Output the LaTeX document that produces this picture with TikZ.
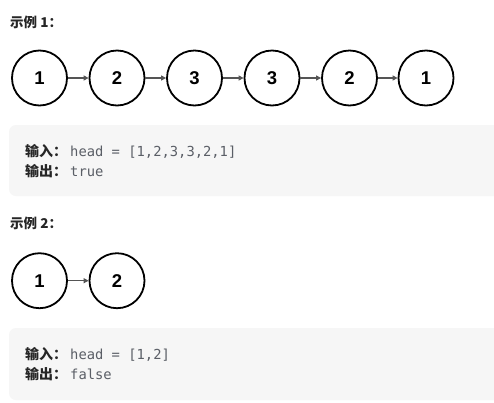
\documentclass[tikz,border=0pt]{standalone}
\usepackage{fontspec}
\setmainfont{Liberation Sans}
\newfontfamily\cjk{Noto Sans CJK SC}
\newfontfamily\codefont{DejaVu Sans Mono}
\usetikzlibrary{arrows.meta}
\definecolor{boxbg}{HTML}{F6F6F6}
\definecolor{codecol}{HTML}{5A5E66}
\definecolor{arrcol}{HTML}{555555}
\tikzset{
  lnode/.style={circle, draw=black, line width=1.8pt, minimum size=55pt, inner sep=0pt,
    font=\fontsize{18.5}{21}\selectfont\bfseries},
  link/.style={draw=arrcol, line width=1.4pt, -{Triangle[length=5pt,width=5pt]}},
  title/.style={anchor=base west, inner sep=0pt, font=\cjk\bfseries\fontsize{13.5}{15}\selectfont, text=black!85},
  lbl/.style={anchor=base west, inner sep=0pt, font=\cjk\bfseries\fontsize{14}{16}\selectfont, text=black!85},
  code/.style={anchor=base west, inner sep=0pt, font=\codefont\fontsize{13.8}{16}\selectfont, text=codecol},
  panel/.style={fill=boxbg, draw=none, rounded corners=7pt}
}
\begin{document}
\begin{tikzpicture}[x=1pt,y=-1pt]
\useasboundingbox (0,0) rectangle (494,402);
\clip (0,0) rectangle (494,402);
\fill[white] (0,0) rectangle (494,402);
% Example 1
\node[title] (t1) at (10,27) {示例 1：};
\foreach \i/\x/\v in {1/39.5/1,2/117/2,3/194.5/3,4/272/3,5/349.5/2,6/426/1}
  \node[lnode] (a\i) at (\x,78) {\v};
\foreach \i/\j in {1/2,2/3,3/4,4/5,5/6}
  \draw[link] (a\i) -- (a\j);
\fill[panel] (9,125) rectangle (510,196);
\node[lbl] (in1) at (25,156) {输入：};
\node[code] (c1) at (70,156) {head = [1,2,3,3,2,1]};
\node[lbl] (out1) at (25,176) {输出：};
\node[code] (d1) at (70,176) {true};
% Example 2
\node[title] (t2) at (10,228) {示例 2：};
\node[lnode] (b1) at (39.5,280.7) {1};
\node[lnode] (b2) at (117,280.7) {2};
\draw[link] (b1) -- (b2);
\fill[panel] (9,328) rectangle (510,400);
\node[lbl] (in2) at (25,359) {输入：};
\node[code] (c2) at (70,359) {head = [1,2]};
\node[lbl] (out2) at (25,379) {输出：};
\node[code] (d2) at (70,379) {false};
\end{tikzpicture}
\end{document}
